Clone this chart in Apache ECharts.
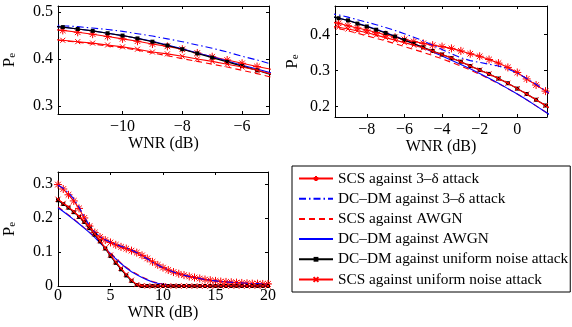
<!DOCTYPE html>
<html><head><meta charset="utf-8">
<script src="https://cdn.jsdelivr.net/npm/echarts@6/dist/echarts.min.js"></script>
<style>html,body{margin:0;padding:0;background:#fff}#c{width:572px;height:327px}</style>
</head><body><div id="c"></div>
<script>
// ---------- data ----------
const seriesNames = ['SCS against 3\u2013\u03b4 attack','DC\u2013DM against 3\u2013\u03b4 attack','SCS against AWGN','DC\u2013DM against AWGN','DC\u2013DM against uniform noise attack','SCS against uniform noise attack'];

// panel 1 (top-left)
const wnr1 = [-12.5,-12,-11.5,-11,-10.5,-10,-9.5,-9,-8.5,-8,-7.5,-7,-6.5,-6,-5.5,-5];
const p1_scs3d  = [0.464,0.461,0.457,0.453,0.448,0.443,0.438,0.432,0.427,0.421,0.413,0.405,0.398,0.391,0.384,0.378];
const p1_dcdm3d = [0.474,0.471,0.469,0.466,0.463,0.459,0.454,0.449,0.443,0.437,0.430,0.423,0.415,0.406,0.398,0.389];
const p1_scsawgn= [0.442,0.439,0.436,0.432,0.428,0.424,0.419,0.413,0.407,0.401,0.395,0.389,0.383,0.376,0.369,0.361];
const p1_dcdmawgn=[0.471,0.468,0.464,0.460,0.455,0.450,0.444,0.438,0.430,0.422,0.413,0.405,0.396,0.387,0.379,0.370];
const p1_dcdmuni= [0.471,0.468,0.464,0.460,0.455,0.450,0.444,0.437,0.429,0.421,0.412,0.403,0.394,0.385,0.376,0.366];
const p1_scsuni = [0.443,0.440,0.437,0.434,0.430,0.426,0.421,0.415,0.411,0.406,0.400,0.395,0.389,0.383,0.376,0.368];
const xTicks1 = [-10,-8,-6];
const yTicks1 = [0.3,0.4,0.5];

// panel 2 (top-right)
const wnr2 = [-10,-9.5,-9,-8.5,-8,-7.5,-7,-6.5,-6,-5.5,-5,-4.5,-4,-3.5,-3,-2.5,-2,-1.5,-1,-0.5,0,0.5,1,1.5,2];
const p2_scs3d  = [0.437,0.432,0.425,0.419,0.413,0.406,0.400,0.393,0.387,0.381,0.376,0.371,0.367,0.362,0.355,0.347,0.340,0.331,0.321,0.309,0.295,0.277,0.260,0.243,0.225];
const p2_dcdm3d = [0.460,0.455,0.449,0.442,0.435,0.428,0.420,0.412,0.403,0.393,0.383,0.371,0.359,0.347,0.336,0.328,0.323,0.318,0.313,0.305,0.293,0.278,0.262,0.244,0.226];
const p2_scsawgn= [0.422,0.417,0.411,0.404,0.397,0.390,0.383,0.375,0.367,0.359,0.351,0.342,0.333,0.323,0.313,0.302,0.290,0.277,0.264,0.250,0.235,0.219,0.202,0.185,0.168];
const p2_dcdmawgn=[0.452,0.446,0.440,0.432,0.424,0.415,0.406,0.396,0.386,0.375,0.364,0.352,0.341,0.329,0.317,0.305,0.292,0.279,0.265,0.250,0.235,0.219,0.202,0.185,0.168];
const p2_dcdmuni= [0.452,0.446,0.440,0.431,0.423,0.414,0.405,0.395,0.385,0.375,0.365,0.355,0.345,0.335,0.325,0.313,0.302,0.291,0.278,0.265,0.250,0.235,0.219,0.203,0.187];
const p2_scsuni = [0.425,0.421,0.416,0.411,0.406,0.399,0.392,0.385,0.378,0.371,0.363,0.354,0.345,0.335,0.325,0.313,0.302,0.291,0.278,0.265,0.250,0.235,0.219,0.203,0.187];
const xTicks2 = [-8,-6,-4,-2,0];
const yTicks2 = [0.2,0.3,0.4];

// panel 3 (bottom-left)
const wnr3 = [0,0.5,1,1.5,2,2.5,3,3.5,4,4.5,5,5.5,6,6.5,7,7.5,8,8.5,9,9.5,10,10.5,11,11.5,12,12.5,13,13.5,14,14.5,15,15.5,16,16.5,17,17.5,18,18.5,19,19.5,20];
const p3_scs3d  = [0.298,0.285,0.268,0.250,0.228,0.200,0.176,0.157,0.144,0.135,0.128,0.121,0.115,0.110,0.104,0.098,0.090,0.081,0.071,0.062,0.054,0.047,0.041,0.036,0.032,0.028,0.025,0.022,0.019,0.017,0.015,0.013,0.012,0.011,0.010,0.009,0.008,0.007,0.007,0.006,0.006];
const p3_dcdm3d = [0.296,0.287,0.274,0.256,0.232,0.203,0.178,0.158,0.145,0.136,0.129,0.122,0.117,0.112,0.106,0.098,0.089,0.080,0.070,0.062,0.054,0.047,0.041,0.036,0.032,0.028,0.025,0.022,0.019,0.017,0.015,0.013,0.012,0.011,0.010,0.009,0.008,0.007,0.007,0.006,0.006];
const p3_scsawgn= [0.233,0.221,0.209,0.197,0.184,0.171,0.158,0.144,0.129,0.113,0.097,0.082,0.068,0.055,0.044,0.035,0.027,0.020,0.013,0.009,0.006,0.004,0.002,0.001,0,0,0,0,0,0,0,0,0,0,0,0,0,0,0,0,0];
const p3_dcdmawgn=[0.230,0.219,0.207,0.195,0.183,0.170,0.157,0.143,0.127,0.111,0.095,0.080,0.066,0.053,0.042,0.033,0.025,0.018,0.012,0.008,0.005,0.003,0.002,0.001,0,0,0,0,0,0,0,0,0,0,0,0,0,0,0,0,0];
const p3_dcdmuni= [0.252,0.241,0.230,0.217,0.203,0.188,0.170,0.151,0.131,0.110,0.088,0.068,0.049,0.031,0.015,0.003,0,0,0,0,0,0,0,0,0,0,0,0,0,0,0,0,0,0,0,0,0,0,0,0,0];
const p3_scsuni = [0.255,0.243,0.232,0.219,0.205,0.190,0.172,0.153,0.133,0.112,0.091,0.071,0.052,0.034,0.017,0.004,0.001,0,0,0,0,0,0,0,0,0,0,0,0,0,0,0,0,0,0,0,0,0,0,0,0];
const xTicks3 = [0,5,10,15,20];
const yTicks3 = [0,0.1,0.2,0.3];

// ---------- presentation ----------
const FONT = 'Liberation Serif';
const ASTER = 'path://M5,0L5,10M0,5L10,5M1.5,1.5L8.5,8.5M1.5,8.5L8.5,1.5';
const XMARK = 'path://M0,0L10,10M0,10L10,0';
const styles = [
  {color:'#ff0000', type:'solid', symbol:ASTER, size:8, stroke:true},
  {color:'#0000ff', type:[7,3,1.5,3], symbol:'none'},
  {color:'#ff0000', type:[6,4], symbol:'none'},
  {color:'#0000ff', type:'solid', symbol:'none'},
  {color:'#000000', type:'solid', symbol:'rect', size:4},
  {color:'#ff0000', type:'solid', symbol:XMARK, size:5, stroke:true}
];
const panels = [
  {x:wnr1, ys:[p1_scs3d,p1_dcdm3d,p1_scsawgn,p1_dcdmawgn,p1_dcdmuni,p1_scsuni], xr:[-12.16,-5.1], yr:[0.283,0.513], xt:xTicks1, yt:yTicks1,
   grid:{left:58, top:6, width:211, height:108}, nameGap:16, yNameGap:40},
  {x:wnr2, ys:[p2_scs3d,p2_dcdm3d,p2_scsawgn,p2_dcdmawgn,p2_dcdmuni,p2_scsuni], xr:[-9.69,1.58], yr:[0.171,0.48], xt:xTicks2, yt:yTicks2,
   grid:{left:335, top:6, width:212, height:111}, nameGap:14, yNameGap:34},
  {x:wnr3, ys:[p3_scs3d,p3_dcdm3d,p3_scsawgn,p3_dcdmawgn,p3_dcdmuni,p3_scsuni], xr:[0,20], yr:[0,0.335], xt:xTicks3, yt:yTicks3,
   grid:{left:58, top:172, width:210, height:114}, nameGap:14, yNameGap:40, xMargin:2}
];

const fmt = v => String(v).replace('-', '\u2212');
const grids=[], xAxes=[], yAxes=[], series=[];
const lineAx = {show:true, onZero:false, lineStyle:{color:'#000', width:1}};
panels.forEach((p, gi) => {
  grids.push(Object.assign({outerBoundsMode:'none', containLabel:false}, p.grid));
  const tick = vals => ({show:true, inside:true, length:3, customValues:vals, lineStyle:{color:'#000', width:1}});
  xAxes.push({type:'value', gridIndex:gi, position:'bottom', min:p.xr[0], max:p.xr[1],
    axisLine:lineAx, axisTick:tick(p.xt), splitLine:{show:false},
    axisLabel:{customValues:p.xt, formatter:fmt, color:'#000', fontFamily:FONT, fontSize:16, margin:(p.xMargin!=null?p.xMargin:5), showMinLabel:true, showMaxLabel:true},
    name:'WNR (dB)', nameLocation:'middle', nameGap:p.nameGap,
    nameTextStyle:{color:'#000', fontFamily:FONT, fontSize:16, verticalAlign:'top'}});
  xAxes.push({type:'value', gridIndex:gi, position:'top', min:p.xr[0], max:p.xr[1],
    axisLine:lineAx, axisTick:tick(p.xt), axisLabel:{show:false}, splitLine:{show:false}});
  yAxes.push({type:'value', gridIndex:gi, position:'left', min:p.yr[0], max:p.yr[1],
    axisLine:lineAx, axisTick:tick(p.yt), splitLine:{show:false},
    axisLabel:{customValues:p.yt, formatter:fmt, color:'#000', fontFamily:FONT, fontSize:16, margin:5},
    name:'{a|P}{b|e}', nameLocation:'middle', nameRotate:90, nameGap:p.yNameGap,
    nameTextStyle:{color:'#000', fontFamily:FONT, fontSize:16,
      rich:{a:{fontFamily:FONT, fontSize:17, color:'#000', verticalAlign:'bottom', lineHeight:18},
            b:{fontFamily:FONT, fontSize:11, color:'#000', verticalAlign:'bottom', lineHeight:12, padding:[5,0,0,0]}}}});
  yAxes.push({type:'value', gridIndex:gi, position:'right', min:p.yr[0], max:p.yr[1],
    axisLine:lineAx, axisTick:tick(p.yt), axisLabel:{show:false}, splitLine:{show:false}});
  p.ys.forEach((ys, si) => {
    const st = styles[si];
    series.push({
      type:'line', name:seriesNames[si], xAxisIndex:gi*2, yAxisIndex:gi*2,
      data:p.x.map((v,i)=>[v, ys[i]]),
      symbol:st.symbol, symbolSize:st.size||0, showSymbol:st.symbol!=='none',
      lineStyle:{color:st.color, width:1.1, type:st.type},
      itemStyle: st.stroke ? {color:'rgba(255,255,255,0)', borderColor:st.color, borderWidth:1} : {color:st.color},
      clip:true, silent:true, animation:false, z: 2+si
    });
  });
});

const legendData = seriesNames.map((n, si) => {
  const st = styles[si];
  const d = {name:n};
  if (st.symbol === 'none') d.itemStyle = {opacity:0, color:'rgba(0,0,0,0)', borderWidth:0};
  return d;
});

const chart = echarts.init(document.getElementById('c'), null, {renderer:'canvas'});
chart.setOption({
  animation:false,
  backgroundColor:'#fff',
  grid:grids, xAxis:xAxes, yAxis:yAxes, series:series,
  legend:{data:legendData, orient:'vertical', left:292, top:166, itemWidth:34, itemHeight:6, itemGap:5.2,
    padding:[5,2,5,6], borderColor:'#000', borderWidth:1, selectedMode:false, inactiveColor:'#000',
    textStyle:{color:'#000', fontFamily:FONT, fontSize:15.3, lineHeight:14}}
});
</script></body></html>
